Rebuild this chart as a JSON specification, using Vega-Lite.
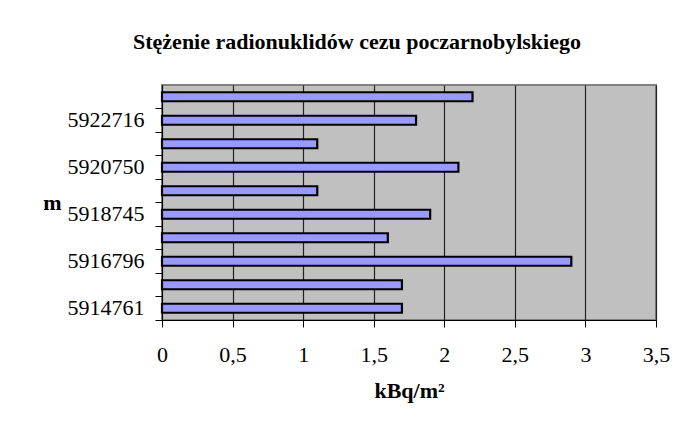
{
  "$schema": "https://vega.github.io/schema/vega-lite/v6.json",
  "autosize": {"type": "none"},
  "width": 494,
  "height": 235,
  "padding": {"left": 162, "top": 85, "right": 21, "bottom": 117},
  "background": "white",
  "title": {
    "text": "Stężenie radionuklidów cezu poczarnobylskiego",
    "font": "Liberation Serif",
    "fontSize": 22,
    "fontWeight": "bold",
    "color": "black",
    "anchor": "middle",
    "dx": -52,
    "offset": 31
  },
  "data": {
    "values": [
      {"m": "5914761", "value": 1.7},
      {"m": "5915780", "value": 1.7},
      {"m": "5916796", "value": 2.9},
      {"m": "5917770", "value": 1.6},
      {"m": "5918745", "value": 1.9},
      {"m": "5919750", "value": 1.1},
      {"m": "5920750", "value": 2.1},
      {"m": "5921730", "value": 1.1},
      {"m": "5922716", "value": 1.8},
      {"m": "5923700", "value": 2.2}
    ]
  },
  "mark": {"type": "bar", "fill": "#9999FF", "stroke": "black", "strokeWidth": 2.2, "size": 9},
  "encoding": {
    "y": {
      "field": "m",
      "type": "nominal",
      "sort": "descending",
      "scale": {"paddingInner": 0, "paddingOuter": 0},
      "axis": {
        "title": "m",
        "titleAngle": 0,
        "titleAlign": "right",
        "titleBaseline": "middle",
        "titleFont": "Liberation Serif",
        "titleFontSize": 22,
        "titleFontWeight": "bold",
        "titleColor": "black",
        "titlePadding": 6,
        "bandPosition": 1,
        "labelExpr": "indexof(['5914761','5916796','5918745','5920750','5922716'], datum.label) >= 0 ? datum.label : ''",
        "labelFont": "Liberation Serif",
        "labelFontSize": 22,
        "labelColor": "black",
        "labelPadding": 11,
        "tickSize": 7,
        "tickColor": "black",
        "domainColor": "black",
        "grid": false
      }
    },
    "x": {
      "field": "value",
      "type": "quantitative",
      "scale": {"domain": [0, 3.5], "nice": false},
      "axis": {
        "title": "kBq/m²",
        "titleFont": "Liberation Serif",
        "titleFontSize": 22,
        "titleFontWeight": "bold",
        "titleColor": "black",
        "titlePadding": 15,
        "values": [0, 0.5, 1, 1.5, 2, 2.5, 3, 3.5],
        "labelExpr": "replace(format(datum.value, '~g'), '.', ',')",
        "labelFont": "Liberation Serif",
        "labelFontSize": 22,
        "labelColor": "black",
        "labelPadding": 17,
        "labelFlush": false,
        "tickSize": 7,
        "tickColor": "black",
        "domainColor": "black",
        "grid": true,
        "gridColor": "#222222",
        "gridWidth": 1.2
      }
    }
  },
  "config": {
    "view": {"fill": "#C0C0C0", "stroke": "#808080", "strokeWidth": 2}
  }
}
